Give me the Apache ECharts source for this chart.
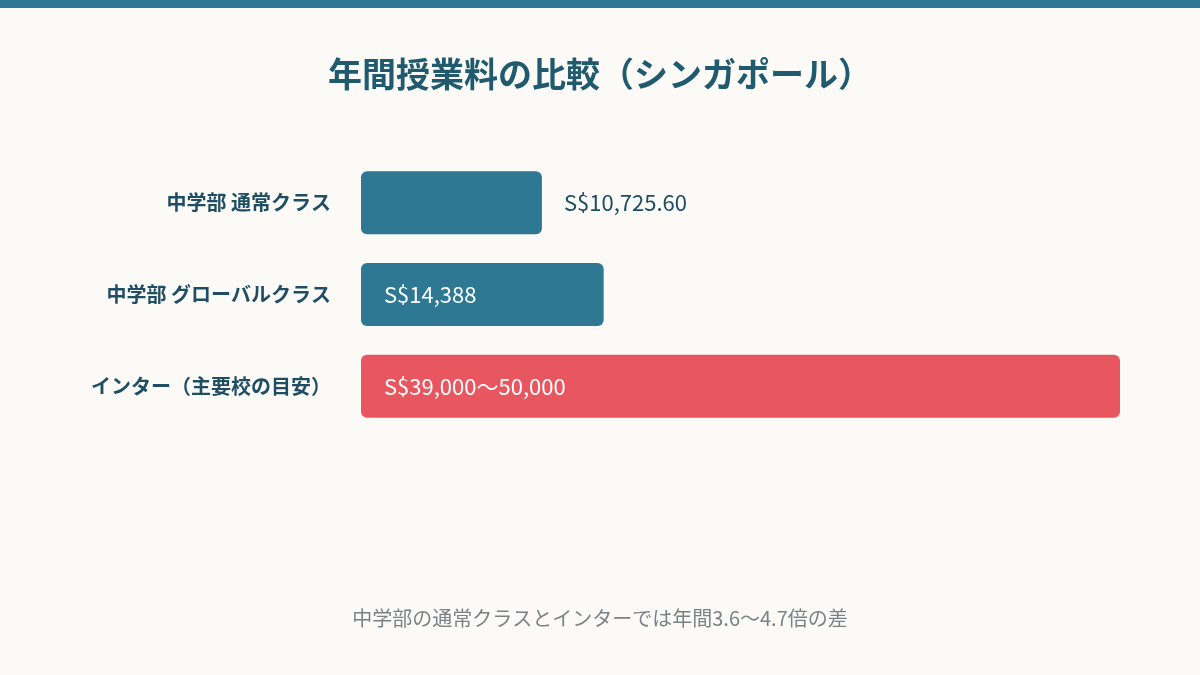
<!DOCTYPE html>
<html lang="ja">
<head>
<meta charset="UTF-8">
<title>年間授業料の比較（シンガポール）</title>
<script src="https://cdn.jsdelivr.net/npm/echarts@6/dist/echarts.min.js"></script>
<style>
  html, body { margin: 0; padding: 0; background: #fbfaf6; }
  #main { width: 1200px; height: 675px; }
</style>
</head>
<body>
<div id="main"></div>
<script>
var categories = ['中学部 通常クラス', '中学部 グローバルクラス', 'インター（主要校の目安）'];
var values = [10725.6, 14388, 45000];
var valueLabels = ['S$10,725.60', 'S$14,388', 'S$39,000〜50,000'];
var barColors = ['#2e7894', '#2e7894', '#e85660'];
var font = '"Noto Sans CJK JP", "Noto Sans", sans-serif';

var myChart = echarts.init(document.getElementById('main'));
var option = {
    backgroundColor: '#fbfaf6',
    textStyle: { fontFamily: font },
    graphic: [
        { type: 'rect', left: 0, top: 0, shape: { width: 1200, height: 8 }, style: { fill: '#2e7894' } }
    ],
    title: [
        {
            text: '年間授業料の比較（シンガポール）',
            left: 'center', top: 52,
            textStyle: { fontSize: 34, fontWeight: 'bold', color: '#1f5a6f', fontFamily: font }
        },
        {
            text: '中学部の通常クラスとインターでは年間3.6〜4.7倍の差',
            left: 'center', top: 603,
            textStyle: { fontSize: 20, fontWeight: 'normal', color: '#7a8288', fontFamily: font }
        }
    ],
    grid: { left: 361, right: 80, top: 157, bottom: 243 },
    xAxis: { type: 'value', min: 0, max: 45000, show: false },
    yAxis: {
        type: 'category',
        inverse: true,
        data: categories,
        axisLine: { show: false },
        axisTick: { show: false },
        axisLabel: { fontSize: 20, fontWeight: 'bold', color: '#1f4e64', margin: 30, fontFamily: font }
    },
    series: [{
        type: 'bar',
        barWidth: 63,
        data: values.map(function (v, i) {
            var outside = i === 0;
            return {
                value: v,
                itemStyle: { color: barColors[i], borderRadius: 6 },
                label: {
                    show: true,
                    position: outside ? 'right' : 'insideLeft',
                    distance: outside ? 22 : 23,
                    color: outside ? '#1f4e64' : '#ffffff',
                    fontSize: 22,
                    fontFamily: font,
                    formatter: valueLabels[i]
                }
            };
        })
    }]
};
myChart.setOption(option);
</script>
</body>
</html>
